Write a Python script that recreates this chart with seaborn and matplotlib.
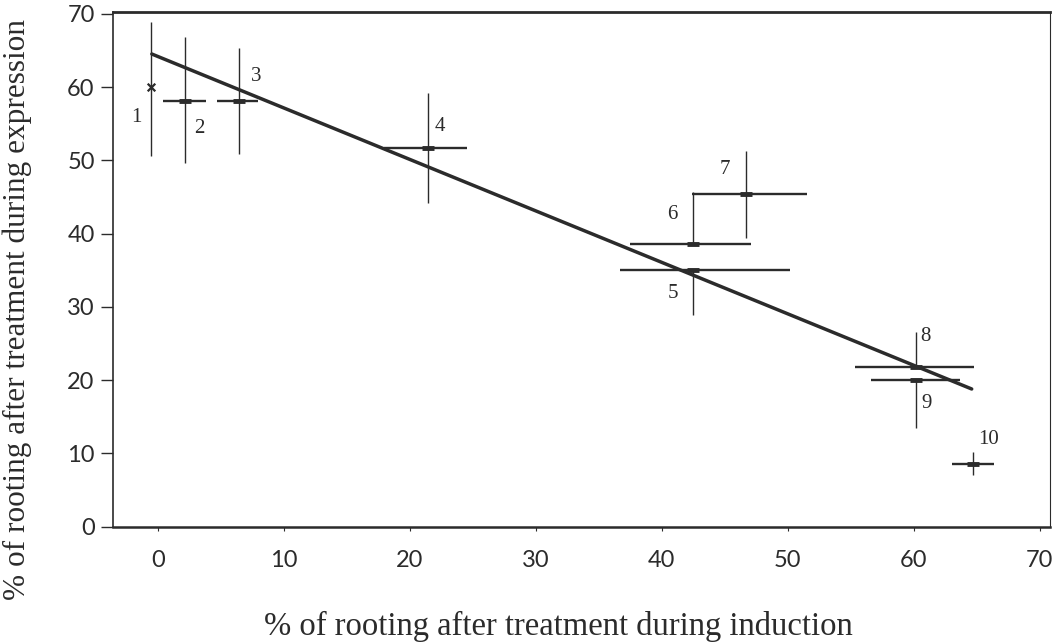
import matplotlib
matplotlib.use("Agg")
import matplotlib.pyplot as plt
import seaborn as sns

# treatment numbers and their means (% rooting)
point_labels = ["1", "2", "3", "4", "5", "6", "7", "8", "9", "10"]
induction = [-0.6, 2.1, 6.4, 21.4, 42.5, 42.5, 46.7, 60.2, 60.2, 64.7]
expression = [60.0, 58.1, 58.1, 51.7, 35.1, 38.6, 45.4, 21.8, 20.0, 8.6]

# error bar extents (lower / upper)
x_err_lo = [0.0, 1.7, 1.7, 3.5, 5.8, 5.0, 4.3, 4.9, 3.6, 1.7]
x_err_hi = [0.0, 1.7, 1.5, 3.1, 7.7, 4.6, 4.8, 4.6, 3.5, 1.7]
y_err_lo = [9.4, 8.5, 7.2, 7.5, 6.2, 0.0, 6.0, 0.0, 6.5, 1.6]
y_err_hi = [8.8, 8.7, 7.2, 7.5, 0.0, 7.1, 5.9, 4.8, 0.0, 1.6]

# where the numbers are written next to each point
label_x = [-1.7, 3.3, 7.8, 22.4, 40.9, 40.8, 45.0, 60.9, 61.0, 65.9]
label_y = [55.9, 54.4, 61.4, 54.6, 31.8, 42.6, 48.7, 25.9, 16.8, 11.9]

# regression line end points
fit_x = [-0.5, 64.6]
fit_y = [64.5, 18.8]

x_ticks = [0, 10, 20, 30, 40, 50, 60, 70]
y_ticks = [0, 10, 20, 30, 40, 50, 60, 70]

ink = "#2b2b2b"

sns.set_style("white")
fig = plt.figure(figsize=(10.54, 6.44), dpi=100)
ax = fig.add_axes([0.107, 0.182, 0.889, 0.799])

# regression line
sns.lineplot(x=fit_x, y=fit_y, color=ink, linewidth=2.5, ax=ax)

# horizontal and vertical error bars
ax.errorbar(induction, expression, xerr=[x_err_lo, x_err_hi], fmt="none",
            ecolor=ink, elinewidth=1.7, capsize=0)
ax.errorbar(induction, expression, yerr=[y_err_lo, y_err_hi], fmt="none",
            ecolor=ink, elinewidth=1.0, capsize=0)

# centre marks
sns.scatterplot(x=induction[1:], y=expression[1:], marker="_", s=70,
                linewidth=3.5, color=ink, ax=ax)
sns.scatterplot(x=induction[:1], y=expression[:1], marker="x", s=30,
                linewidth=1.6, color=ink, ax=ax)

for lab, lx, ly in zip(point_labels, label_x, label_y):
    ax.text(lx, ly, lab, ha="center", va="center", fontsize=15,
            family="Liberation Serif", color=ink)

ax.set_xlim(-3.6, 70.8)
ax.set_ylim(0, 70.2)
ax.set_xticks(x_ticks)
ax.set_yticks(y_ticks)
ax.set_xticklabels([str(t) for t in x_ticks], family="Lato", fontsize=17, color=ink)
ax.set_yticklabels([str(t) for t in y_ticks], family="Lato", fontsize=17, color=ink)
ax.tick_params(axis="y", direction="out", length=9, width=1.0, pad=4, left=True, color=ink)
ax.tick_params(axis="x", direction="out", length=3, width=0.8, pad=14, bottom=True, color=ink)

for side in ["left", "right", "top", "bottom"]:
    ax.spines[side].set_visible(True)
    ax.spines[side].set_color(ink)
ax.spines["left"].set_linewidth(1.2)
ax.spines["right"].set_linewidth(0.8)
ax.spines["top"].set_linewidth(2.0)
ax.spines["bottom"].set_linewidth(1.8)

ax.set_xlabel("% of rooting after treatment during induction",
              family="Liberation Serif", fontsize=23.5, color=ink)
ax.set_ylabel("% of rooting after treatment during expression",
              family="Liberation Serif", fontsize=22.5, color=ink)
ax.xaxis.set_label_coords(0.476, -0.163)
ax.yaxis.set_label_coords(-0.086, 0.423)

fig.savefig("out.png", dpi=100)
